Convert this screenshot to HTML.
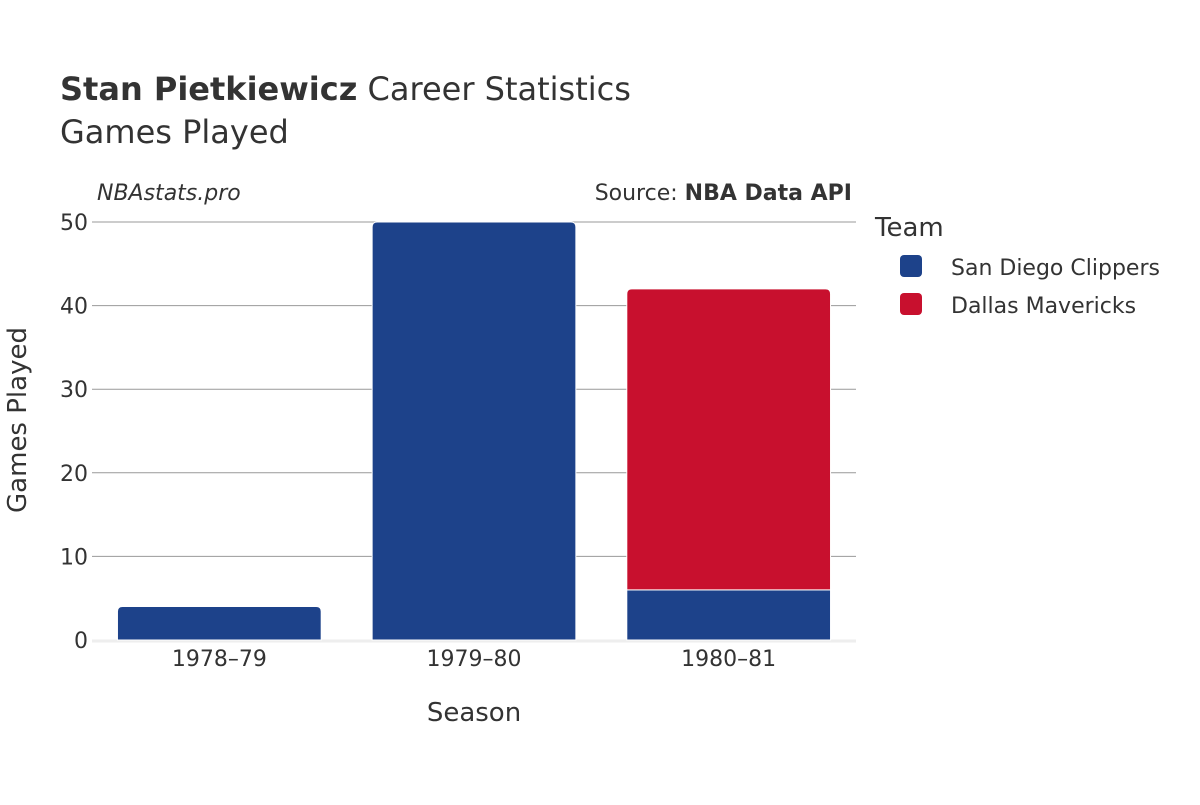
<!DOCTYPE html>
<html><head><meta charset="utf-8"><style>
body{margin:0;background:#fff;}
svg{font-family:"DejaVu Sans","Liberation Sans",sans-serif;}
</style></head><body>
<svg id="chart" width="1200" height="800" xmlns="http://www.w3.org/2000/svg">
<text x="60" y="100" font-size="32" fill="#333"><tspan font-weight="bold">Stan Pietkiewicz</tspan> Career Statistics</text>
<text x="60" y="143" font-size="32" fill="#333">Games Played</text>
<text x="97" y="200" font-size="22" font-style="italic" fill="#333">NBAstats.pro</text>
<text x="852" y="200" font-size="22" fill="#333" text-anchor="end">Source: <tspan font-weight="bold">NBA Data API</tspan></text>
<g id="grid"></g>
<g id="bars"></g>
<g id="xticks"></g>
<text x="474" y="721" font-size="26" fill="#333" text-anchor="middle">Season</text>
<text transform="translate(26,420) rotate(-90)" font-size="26" fill="#333" text-anchor="middle">Games Played</text>
<text x="875" y="236" font-size="26" fill="#333">Team</text>
<g>
<rect x="900" y="255" width="22" height="22" rx="4" fill="#1d428a"/>
<text x="951" y="275" font-size="22" fill="#333">San Diego Clippers</text></g>
<g>
<rect x="900" y="293" width="22" height="22" rx="4" fill="#c8102e"/>
<text x="951" y="313" font-size="22" fill="#333">Dallas Mavericks</text></g>
</svg>
<script>
const seasons=["1978–79","1979–80","1980–81"];
const clippers=[4,50,6];
const mavericks=[0,0,36];
const yTicks=[0,10,20,30,40,50];
const NS="http://www.w3.org/2000/svg";
const x0=92,x1=856,y0=640,y1=222,yMax=50;
const band=(x1-x0)/seasons.length;
function xs(i){return x0+band*(i+0.5);}
function ys(v){return y0-(y0-y1)*v/yMax;}
function mk(t,a){const e=document.createElementNS(NS,t);for(const k in a)e.setAttribute(k,a[k]);return e;}
const grid=document.getElementById('grid');
yTicks.forEach(v=>{
  if(v>0){const l=mk('line',{x1:x0,x2:x1,y1:ys(v),y2:ys(v),stroke:'#999','stroke-width':1});
  
  
  grid.appendChild(l);}
  const t=mk('text',{x:88,y:ys(v)+8,'font-size':22,fill:'#333','text-anchor':'end'});
  t.textContent=v;
  
  
  grid.appendChild(t);
});
const zl=mk('line',{x1:x0,x2:x1,y1:y0+1,y2:y0+1,stroke:'#eee','stroke-width':3});


grid.appendChild(zl);
function barPath(x,w,top,bot,r){
  r=Math.min(r,(bot-top));
  return `M${x},${bot}L${x},${top+r}Q${x},${top} ${x+r},${top}L${x+w-r},${top}Q${x+w},${top} ${x+w},${top+r}L${x+w},${bot}Z`;
}
const bars=document.getElementById('bars');
const bw=band*0.8;
seasons.forEach((s,i)=>{
  const x=xs(i)-bw/2;
  const series=[[clippers[i],'#1d428a','clippers'],[mavericks[i],'#c8102e','mavericks']];
  let base=0;
  const tops=series.filter(d=>d[0]>0);
  series.forEach(([v,c,n])=>{
    if(v<=0)return;
    const isTop=tops[tops.length-1][2]===n;
    const p=mk('path',{d:barPath(x,bw,ys(base+v),ys(base),isTop?5:0),fill:c,stroke:'#fff','stroke-width':1});
    
    
    bars.appendChild(p);
    base+=v;
  });
  const t=mk('text',{x:xs(i),y:666,'font-size':22,fill:'#333','text-anchor':'middle'});
  t.textContent=s;
  
  
  document.getElementById('xticks').appendChild(t);
});
</script>
</body></html>
